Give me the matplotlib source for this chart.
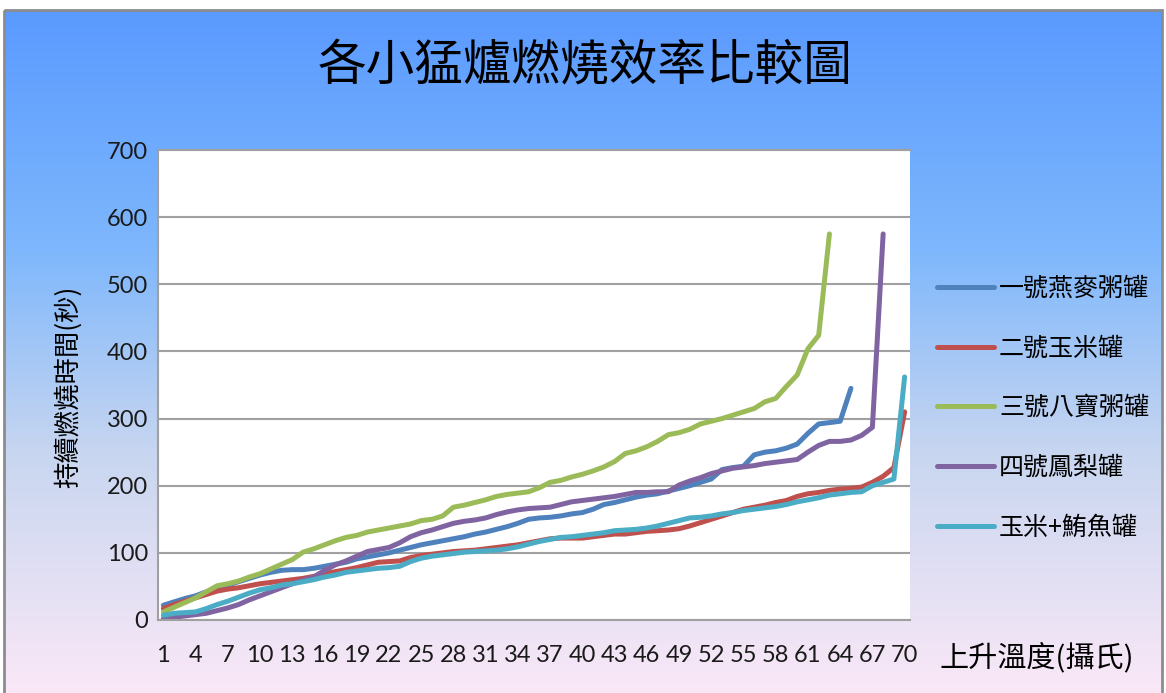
import numpy as np
import matplotlib
matplotlib.use("Agg")
import matplotlib.pyplot as plt
from matplotlib.patches import Rectangle

plt.rcParams['font.family'] = ['Noto Sans CJK TC', 'DejaVu Sans']

# 各罐的燃燒時間(秒)，依上升溫度排列
series_names = ["一號燕麥粥罐", "二號玉米罐", "三號八寶粥罐", "四號鳳梨罐", "玉米+鮪魚罐"]
series_colors = ["#4F81BD", "#C0504D", "#9BBB59", "#8064A2", "#4BACC6"]

oat = [22, 27, 32, 36, 42, 47, 52, 57, 62, 67, 71, 74, 75, 75, 77, 80, 83, 86, 91, 94,
       97, 100, 104, 108, 112, 115, 118, 121, 124, 128, 131, 135, 139, 144, 150, 152, 153, 155, 158, 160,
       165, 172, 175, 179, 183, 186, 188, 192, 196, 200, 205, 210, 224, 227, 229, 246, 250, 252, 256, 262,
       278, 292, 294, 296, 345]
corn = [17, 23, 28, 33, 38, 43, 46, 48, 51, 54, 56, 58, 60, 62, 65, 69, 72, 75, 78, 82,
        86, 87, 88, 93, 96, 98, 100, 102, 103, 104, 106, 108, 110, 112, 115, 118, 121, 122, 122, 122,
        124, 126, 128, 128, 130, 132, 133, 134, 136, 140, 145, 150, 155, 160, 165, 168, 171, 175, 178, 184,
        188, 190, 193, 195, 196, 198, 205, 214, 227, 310]
babao = [12, 19, 26, 33, 42, 51, 54, 58, 64, 69, 76, 83, 90, 101, 106, 112, 118, 123, 126, 131,
         134, 137, 140, 143, 148, 150, 155, 168, 171, 175, 179, 184, 187, 189, 191, 197, 205, 208, 213, 217,
         222, 228, 236, 248, 252, 258, 266, 276, 279, 284, 292, 296, 300, 305, 310, 315, 325, 330, 348, 365,
         404, 424, 575]
pineapple = [2, 4, 6, 8, 10, 14, 18, 23, 30, 36, 42, 48, 54, 59, 64, 74, 82, 88, 95, 102,
             105, 108, 115, 124, 130, 134, 139, 144, 147, 149, 152, 157, 161, 164, 166, 167, 168, 172, 176, 178,
             180, 182, 184, 187, 190, 190, 191, 191, 201, 207, 212, 218, 222, 226, 228, 230, 233, 235, 237, 239,
             250, 260, 266, 266, 268, 275, 287, 575]
tuna = [7, 10, 11, 12, 17, 23, 28, 34, 40, 45, 48, 52, 54, 57, 60, 64, 67, 71, 73, 75,
        77, 78, 80, 87, 92, 95, 97, 99, 101, 102, 103, 104, 106, 109, 113, 117, 120, 123, 124, 126,
        128, 130, 133, 134, 135, 137, 140, 144, 148, 152, 153, 155, 158, 160, 163, 165, 167, 169, 172, 176,
        179, 182, 186, 188, 190, 191, 200, 205, 210, 362]

x_ticks = list(range(1, 71, 3))
y_ticks = list(range(0, 701, 100))

W, H = 1166, 693
fig = plt.figure(figsize=(W / 100, H / 100), dpi=100)

# 背景漸層 (藍 -> 淡粉紅)
bg = fig.add_axes([0, 0, 1, 1])
bg.set_xlim(0, W)
bg.set_ylim(H, 0)
bg.set_axis_off()
stops = np.array([0.0, 0.35, 0.65, 1.0])
cols = np.array([[90, 154, 255], [126, 183, 252], [200, 214, 240], [250, 232, 247]]) / 255
t = np.linspace(0, 1, 400)
grad = np.stack([np.interp(t, stops, cols[:, k]) for k in range(3)], axis=1)
grad = np.repeat(grad[:, None, :], 2, axis=1)
bg.imshow(grad, extent=(4, 1162, H, 10), aspect='auto', interpolation='bilinear')
bg.add_patch(Rectangle((4, 10), 1158, H, fill=False, edgecolor='#8c8c8c', lw=2))

bg.text(585, 67, "各小猛爐燃燒效率比較圖", fontsize=35, ha='center', va='center', color='black')

ax = fig.add_axes([158 / W, 1 - 620 / H, 752 / W, 470 / H])
ax.set_facecolor('white')

all_series = [oat, corn, babao, pineapple, tuna]
for name, vals, c in zip(series_names, all_series, series_colors):
    xs = np.arange(1, len(vals) + 1)
    ax.plot(xs, vals, color=c, lw=3.6, label=name, solid_capstyle='round', solid_joinstyle='round')

ax.set_xlim(0.5, 70.5)
ax.set_ylim(0, 700)
ax.set_yticks(y_ticks)
ax.set_xticks(x_ticks)
ax.set_xticklabels([str(v) for v in x_ticks], family=['Lato', 'DejaVu Sans'], fontsize=17)
ax.set_yticklabels([str(v) for v in y_ticks], family=['Lato', 'DejaVu Sans'], fontsize=17)
ax.tick_params(axis='x', length=0, pad=18, colors='#1a1a1a')
ax.tick_params(axis='y', length=0, pad=7, colors='#1a1a1a')
ax.yaxis.grid(True, color='#a0a0a0', lw=1.5)
ax.set_axisbelow(True)
for side in ['left', 'bottom', 'top']:
    ax.spines[side].set_color('#a0a0a0')
    ax.spines[side].set_linewidth(1.5)
ax.spines['right'].set_visible(False)

ax.set_ylabel("持續燃燒時間(秒)", fontsize=19)
ax.yaxis.set_label_coords((82 - 158) / 752, 0.496)
bg.text(1037, 658, "上升溫度(攝氏)", fontsize=21, ha='center', va='center')

fig.legend(loc='center left', bbox_to_anchor=(924 / W, 1 - 408 / H), frameon=False,
           fontsize=18, handlelength=2.3, handletextpad=0.2, labelspacing=1.35, borderpad=0)

fig.savefig("out.png", dpi=100)
